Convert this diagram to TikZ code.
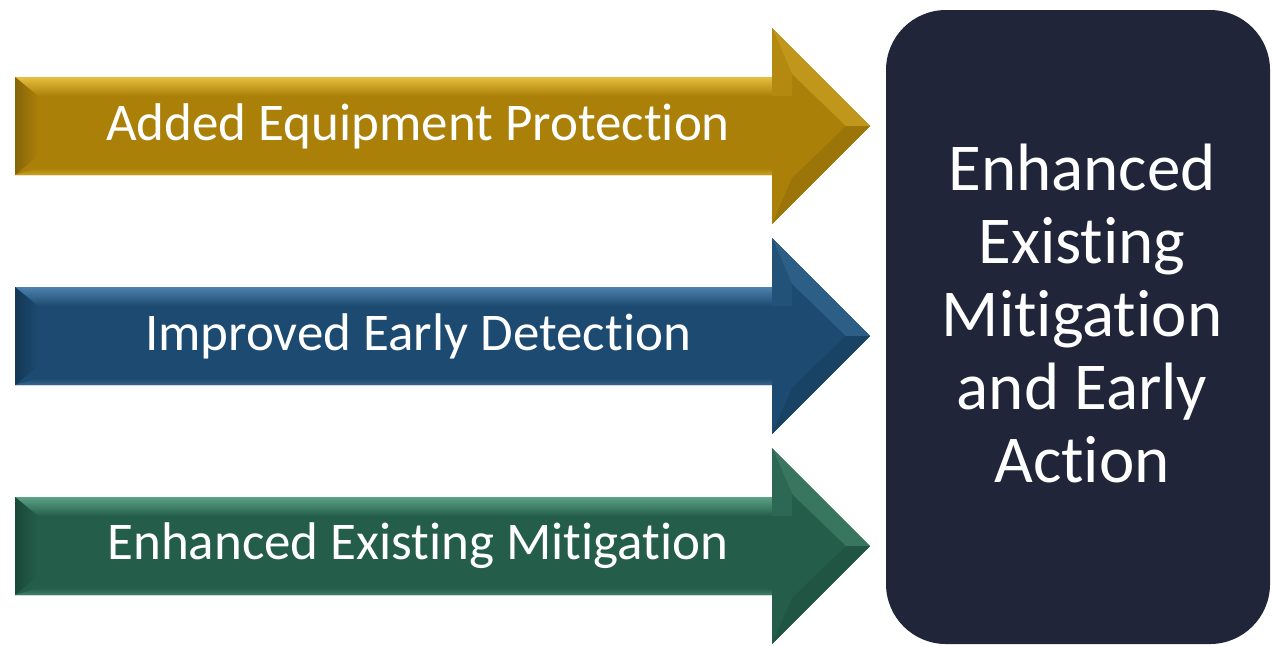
\documentclass[tikz,border=0pt]{standalone}
\usepackage{fontspec}
\setmainfont[Ligatures={NoCommon,NoRequired,NoContextual}]{Carlito}
\definecolor{goldmid}{HTML}{AA8008}
\definecolor{goldlight}{HTML}{E8BE3E}
\definecolor{golddark}{HTML}{86650A}
\definecolor{bluemid}{HTML}{1C4A70}
\definecolor{bluelight}{HTML}{4E82AE}
\definecolor{bluedark}{HTML}{143856}
\definecolor{greenmid}{HTML}{245E4B}
\definecolor{greenlight}{HTML}{5CA286}
\definecolor{greendark}{HTML}{1A4838}
\definecolor{boxc}{HTML}{212539}
\newcommand\bevarrow[4]{%
  \fill[#2] (15,#1-49) -- (772,#1-49) -- (772,#1-98) -- (870,#1) -- (772,#1+98) -- (772,#1+49) -- (15,#1+49) -- cycle;
  \shade[top color=#3, bottom color=#2] (15,#1-49) -- (772,#1-49) -- (790,#1-30) -- (38,#1-30) -- cycle;
  \shade[left color=#4, right color=#2] (15,#1-49) -- (38,#1-30) -- (38,#1+30) -- (15,#1+49) -- cycle;
  \shade[top color=#2, bottom color=#3!50!#2] (15,#1+49) -- (38,#1+42) -- (772,#1+42) -- (772,#1+49) -- cycle;
  \fill[#3!35!#2] (772,#1-98) -- (870,#1) -- (846,#1) -- (792,#1-52) -- cycle;
  \fill[#4!40!#2] (772,#1+98) -- (870,#1) -- (846,#1) -- (792,#1+52) -- cycle;
  \fill[#3!15!#2] (772,#1-98) -- (792,#1-52) -- (792,#1-30) -- (772,#1-30) -- cycle;
}
\tikzset{
  lbl/.style={text=white, font=\fontsize{26.5}{32}\selectfont, inner sep=0pt},
  bigbox/.style={fill=boxc, rounded corners=30pt, minimum width=192pt, minimum height=317pt, inner sep=0pt},
  boxtext/.style={text=white, align=center, font=\fontsize{33.5}{36.5}\selectfont, inner sep=0pt}
}
\begin{document}
\begin{tikzpicture}[x=0.5pt, y=-0.5pt]
\useasboundingbox (0,0) rectangle (1272,645);
\fill[white] (0,0) rectangle (1272,645);
\bevarrow{126}{goldmid}{goldlight}{golddark}
\bevarrow{336}{bluemid}{bluelight}{bluedark}
\bevarrow{546}{greenmid}{greenlight}{greendark}
\node[lbl] (t1) at (418,126) {Added Equipment Protection};
\node[lbl] (t2) at (418,336) {Improved Early Detection};
\node[lbl] (t3) at (418,546) {Enhanced Existing Mitigation};
\node[bigbox] (box) at (1078,327) {};
\node[boxtext] (bt) at (1082,313) {Enhanced\\Existing\\Mitigation\\and Early\\Action};
\end{tikzpicture}
\end{document}
